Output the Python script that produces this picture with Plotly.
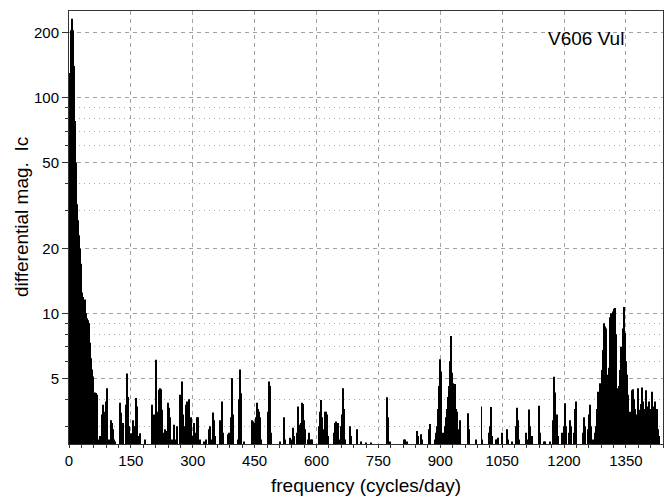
import plotly.graph_objects as go

# frequency (cycles/day) and amplitude (differential mag. Ic)
low_freq = list(range(1, 70))
low_amp = [30, 80, 130, 160, 185, 205, 222, 232, 205, 180, 140, 112, 92, 78, 62, 50, 43, 37, 32, 29,
           27, 24, 21, 22, 23, 20, 18, 17, 15, 13, 12.5, 12, 11.9, 11.5, 11.8, 10.6, 11.2, 11.6, 9.2, 11.1,
           10, 8, 6.8, 9.5, 9.3, 9.1, 8.5, 9.0, 7.5, 7.3, 5.5, 5.2, 5.8, 6.2, 5.5, 4.8, 5.1, 4.6, 4.5, 3.8,
           3.2, 4.3, 2.8, 3.5, 3.9, 4.27, 4.2, 3.6, 2.7]

mid_freq = [72, 75, 79, 81, 83, 86, 89, 91, 93, 96, 103, 105, 107, 109, 112, 123, 126, 128, 130, 139,
            141, 143, 145, 150, 155, 158, 163, 166, 168, 172, 185, 202, 205, 207, 210, 212, 215, 218, 220, 223,
            225, 228, 233, 235, 240, 243, 245, 250, 255, 258, 263, 270, 273, 276, 279, 283, 287, 290, 292, 296,
            300, 303, 306, 310, 313, 318, 328, 333, 339, 341, 345, 350, 352, 355, 366, 368, 370, 372, 374, 386,
            388, 392, 394, 395, 398, 410, 412, 414, 416, 418, 424, 443, 445, 447, 451, 453, 455, 458, 460, 462,
            465, 483, 485, 487, 489, 511, 521, 523, 535, 538, 543, 546, 553, 555, 559, 563, 565, 567, 569, 571,
            579, 583, 587, 590]
mid_amp = [2.6, 2.7, 3.1, 3.4, 3.77, 3.5, 3.9, 4.5, 4.0, 2.6, 3.2, 3.1, 2.9, 2.6, 2.55, 3.85, 3.46, 2.7, 3.1, 3.77,
           5.27, 4.1, 3.0, 2.78, 3.2, 3.0, 4.05, 3.7, 2.7, 2.78, 2.6, 3.77, 3.4, 2.8, 6.1, 4.83, 3.5, 4.42, 4.5, 4.45,
           3.57, 2.8, 2.9, 2.85, 3.85, 3.65, 3.3, 2.6, 3.05, 2.6, 3.0, 4.2, 4.83, 3.4, 3.0, 3.77, 3.9, 4.0, 3.9, 3.3,
           2.7, 3.1, 2.8, 3.3, 3.3, 2.6, 2.55, 2.6, 2.9, 3.0, 2.6, 3.47, 3.2, 2.7, 3.2, 2.9, 3.9, 3.6, 2.8, 2.75,
           2.8, 3.3, 4.1, 5.0, 3.4, 2.6, 4.0, 5.5, 4.26, 2.7, 2.55, 3.2, 3.1, 3.15, 3.1, 3.3, 3.85, 3.6, 3.5, 3.3,
           2.6, 3.5, 4.83, 4.6, 2.8, 2.55, 3.3, 2.6, 2.65, 2.6, 2.95, 2.7, 2.8, 3.7, 3.05, 3.1, 3.85, 3.8, 3.2, 2.9,
           2.6, 2.8, 2.6, 2.6]

high_freq = [606, 608, 610, 612, 614, 618, 620, 622, 625, 627, 643, 645, 648, 651, 656, 660, 662, 664, 666, 668,
             682, 684, 697, 699, 709, 721, 733, 771, 772, 774, 778, 811, 814, 820, 843, 846, 854, 856, 872, 874,
             876, 887, 890, 893, 895, 897, 899, 901, 903, 906, 909, 912, 915, 917, 919, 921, 923, 925, 927, 929,
             931, 932, 934, 935, 937, 939, 941, 943, 947, 949, 968, 970, 986, 1000, 1002, 1017, 1021, 1023, 1025, 1034,
             1037, 1041, 1049, 1063, 1065, 1074, 1084, 1086, 1089, 1091, 1107, 1110, 1115, 1117, 1119, 1123, 1139, 1141, 1151, 1154,
             1167, 1173, 1175, 1177, 1179, 1181, 1183, 1185, 1196, 1200, 1202, 1204, 1212, 1214, 1216, 1218, 1224, 1226, 1228, 1230,
             1246, 1248, 1250, 1252, 1258, 1260, 1262, 1264, 1266, 1270]
high_amp = [3.0, 3.5, 3.2, 3.97, 3.3, 2.9, 3.5, 3.5, 3.4, 2.7, 2.8, 3.1, 3.15, 3.1, 2.6, 3.0, 3.4, 4.5, 3.6, 2.6,
            3.0, 2.7, 2.9, 2.6, 2.55, 2.52, 2.52, 3.0, 4.08, 3.3, 2.55, 2.6, 2.6, 2.55, 2.85, 2.7, 2.75, 2.6, 2.9, 3.07,
            2.7, 2.6, 2.8, 3.0, 3.6, 4.6, 6.13, 5.37, 3.8, 2.8, 2.6, 3.0, 3.3, 3.6, 4.1, 4.6, 6.0, 7.85, 6.3, 5.3,
            4.4, 4.74, 3.9, 4.7, 3.6, 3.3, 3.5, 2.9, 3.2, 2.6, 3.44, 2.9, 2.6, 3.7, 2.6, 2.8, 3.0, 3.68, 2.7, 2.6,
            2.6, 2.65, 2.8, 2.9, 2.6, 2.55, 3.0, 3.65, 3.2, 2.6, 2.8, 2.6, 3.58, 3.0, 2.7, 2.7, 3.73, 2.8, 2.55, 2.55,
            2.55, 3.2, 5.09, 4.3, 3.8, 3.2, 3.4, 2.7, 2.8, 3.0, 3.83, 3.0, 2.8, 3.2, 2.8, 3.0, 2.8, 3.6, 3.9, 3.0,
            2.8, 3.3, 3.0, 2.6, 2.9, 3.4, 3.2, 3.77, 3.0, 2.6]

top_freq = [1276, 1278, 1280, 1282, 1283, 1285, 1287, 1289, 1291, 1293, 1295, 1297, 1298, 1300, 1301, 1303, 1305, 1307, 1309, 1310,
            1312, 1314, 1316, 1318, 1320, 1321, 1323, 1324, 1326, 1327, 1329, 1331, 1333, 1335, 1337, 1338, 1340, 1341, 1343, 1345,
            1346, 1348, 1350, 1352, 1354, 1355, 1357, 1359, 1361, 1363, 1366, 1368, 1370, 1372, 1374, 1376, 1378, 1380, 1382, 1384,
            1386, 1388, 1390, 1391, 1393, 1395, 1397, 1399, 1401, 1402, 1404, 1406, 1408, 1411, 1413, 1415, 1416, 1418, 1421, 1423,
            1425, 1428, 1430]
top_amp = [2.8, 3.0, 3.6, 4.0, 4.33, 3.8, 4.74, 4.2, 5.47, 4.8, 6.77, 7.5, 8.99, 8.7, 8.5, 6.0, 5.2, 4.0, 4.5, 5.6,
           9.6, 10.0, 9.0, 10.2, 10.4, 10.5, 10.6, 10.4, 8.0, 5.8, 4.5, 3.9, 4.6, 5.47, 6.5, 7.0, 6.2, 6.3, 8.5, 10.7,
           10.0, 8.1, 6.0, 5.2, 4.2, 3.83, 3.2, 3.5, 3.0, 3.3, 4.4, 4.45, 4.0, 3.6, 3.4, 3.0, 3.2, 4.5, 3.57, 3.3,
           3.8, 4.53, 4.0, 3.9, 3.2, 3.0, 3.6, 4.4, 3.7, 3.6, 3.2, 3.9, 3.4, 3.6, 4.33, 3.7, 3.6, 3.1, 3.9, 3.4,
           3.6, 2.9, 2.7]

freq = low_freq + mid_freq + high_freq + top_freq
amp = low_amp + mid_amp + high_amp + top_amp

x_ticks = [0, 150, 300, 450, 600, 750, 900, 1050, 1200, 1350]
y_ticks = [5, 10, 20, 50, 100, 200]
y_minor = [3, 4, 6, 7, 8, 9, 30, 40, 60, 70, 80, 90]

FONT = "Liberation Sans, Arial, Helvetica, sans-serif"

fig = go.Figure(go.Bar(x=freq, y=amp, width=2.4, marker=dict(color="black", line=dict(width=0))))

fig.update_layout(
    width=671, height=498,
    margin=dict(l=69, r=8, t=11, b=54),
    plot_bgcolor="white", paper_bgcolor="white",
    showlegend=False,
    font=dict(family=FONT, size=14, color="black"),
    xaxis=dict(
        range=[0, 1440], tickvals=x_ticks, ticktext=[str(v) for v in x_ticks],
        showgrid=True, gridcolor="#a0a0a0", gridwidth=1, griddash="4px,4px",
        ticks="outside", ticklen=3, tickcolor="#333",
        minor=dict(dtick=30, tick0=0, ticks="outside", ticklen=3, tickcolor="#333", showgrid=False),
        showline=True, linecolor="#333", linewidth=1, mirror=True, zeroline=False,
        tickfont=dict(size=15, family=FONT, color="black"),
    ),
    yaxis=dict(
        type="log", range=[0.3945, 2.4014],
        tickvals=y_ticks, ticktext=[str(v) for v in y_ticks],
        showgrid=True, gridcolor="#a0a0a0", gridwidth=1, griddash="4px,4px",
        ticks="outside", ticklen=6, tickcolor="#333",
        minor=dict(tickvals=y_minor, ticks="outside", ticklen=3, tickcolor="#333",
                   showgrid=True, gridcolor="#aaaaaa", gridwidth=1, griddash="1px,4px"),
        showline=True, linecolor="#333", linewidth=1, mirror=True, zeroline=False,
        tickfont=dict(size=15, family=FONT, color="black"),
    ),
    annotations=[
        dict(text="frequency (cycles/day)", xref="paper", yref="paper", x=0.5, y=-0.095,
             xanchor="center", yanchor="middle", showarrow=False, font=dict(size=19, family=FONT, color="black")),
        dict(text="differential mag.\u00a0\u00a0Ic", xref="paper", yref="paper", x=-0.081, y=0.524,
             xanchor="center", yanchor="middle", textangle=-90, showarrow=False,
             font=dict(size=19, family=FONT, color="black")),
        dict(text="V606 Vul", xref="paper", yref="paper", x=0.9377, y=0.9376,
             xanchor="right", yanchor="middle", showarrow=False, font=dict(size=19, family=FONT, color="black")),
    ],
)

fig.write_html("out.html", config={"displayModeBar": False},
               post_script="document.body.style.margin='0';document.body.style.overflow='hidden';")
